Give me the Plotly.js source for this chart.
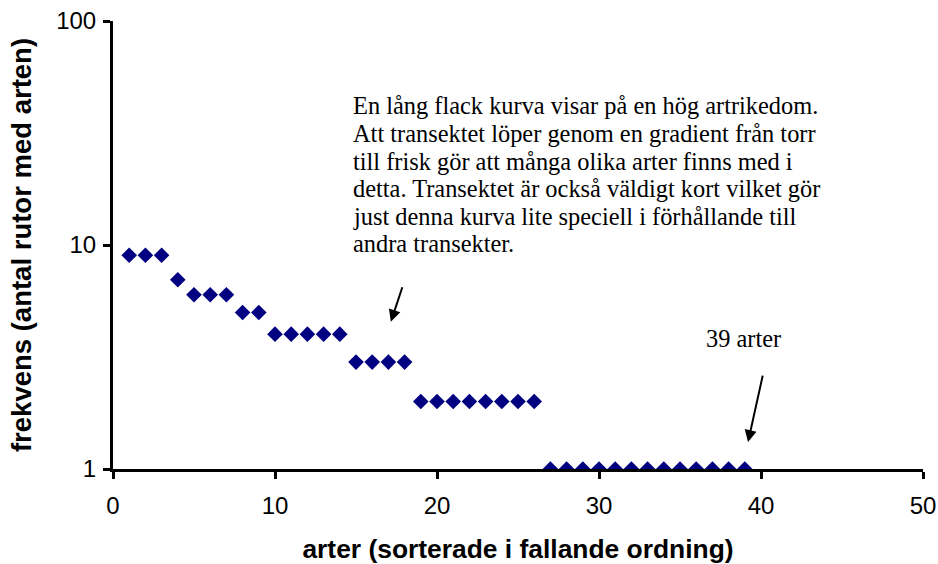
<!DOCTYPE html>
<html><head><meta charset="utf-8">
<script src="https://cdn.plot.ly/plotly-3.0.1.min.js"></script>
<style>html,body{margin:0;padding:0;background:#fff}#chart{width:938px;height:564px}</style>
</head><body><div id="chart"></div>
<script>
const species = [1,2,3,4,5,6,7,8,9,10,11,12,13,14,15,16,17,18,19,20,21,22,23,24,25,26,27,28,29,30,31,32,33,34,35,36,37,38,39];
const frequency = [9,9,9,7,6,6,6,5,5,4,4,4,4,4,3,3,3,3,2,2,2,2,2,2,2,2,1,1,1,1,1,1,1,1,1,1,1,1,1];
const xTicks = [0,10,20,30,40,50];
const yTicks = [1,10,100];
const noteLines = [
  "En lång flack kurva visar på en hög artrikedom.",
  "Att transektet löper genom en gradient från torr",
  "till frisk gör att många olika arter finns med i",
  "detta. Transektet är också väldigt kort vilket gör",
  "just denna kurva lite speciell i förhållande till",
  "andra transekter."
];
const countLabel = "39 arter";

const serif = {family: "Liberation Serif, Times New Roman, serif", size: 24.4, color: "#000"};
const annotations = noteLines.map((t, i) => ({
  xref: "paper", yref: "paper", x: 0.2935, y: 0.8103 - i * 0.0614,
  xanchor: "left", yanchor: "middle", text: t, showarrow: false, font: serif
}));
annotations.push({xref: "paper", yref: "paper", x: 0.778, y: 0.292, xanchor: "center", yanchor: "middle",
  text: countLabel, showarrow: false, font: serif});
annotations.push({x: 17.15, y: Math.log10(3) + 0.18, xref: "x", yref: "y", text: "", showarrow: true,
  arrowhead: 2, arrowsize: 1.2, arrowwidth: 2, arrowcolor: "#000", ax: 12, ay: -36});
annotations.push({x: 39.2, y: 0.12, xref: "x", yref: "y", text: "", showarrow: true,
  arrowhead: 2, arrowsize: 1.2, arrowwidth: 2, arrowcolor: "#000", ax: 15, ay: -68});

Plotly.newPlot("chart", [{
  x: species, y: frequency, type: "scatter", mode: "markers",
  marker: {symbol: "diamond", size: 12, color: "#000080"}
}], {
  width: 938, height: 564,
  margin: {l: 113, r: 15, t: 21, b: 95},
  paper_bgcolor: "#fff", plot_bgcolor: "#fff",
  showlegend: false,
  font: {family: "Liberation Sans, Arial, sans-serif", size: 24, color: "#000"},
  xaxis: {
    range: [0, 50], tickvals: xTicks, ticktext: xTicks.map(String),
    showgrid: false, zeroline: false, showline: true, linecolor: "#000", linewidth: 3,
    ticks: "outside", ticklen: 7, tickwidth: 3, tickcolor: "#000",
    tickfont: {size: 24}, ticklabelstandoff: 6,
    title: {text: "<b>arter (sorterade i fallande ordning)</b>", font: {size: 26.4}, standoff: 26}
  },
  yaxis: {
    type: "log", range: [0, 2], tickvals: yTicks, ticktext: yTicks.map(String),
    showgrid: false, zeroline: false, showline: true, linecolor: "#000", linewidth: 3,
    ticks: "outside", ticklen: 7, tickwidth: 3, tickcolor: "#000",
    tickfont: {size: 24}, ticklabelstandoff: 2,
    title: {text: "<b>frekvens (antal rutor med arten)</b>", font: {size: 27.5}, standoff: 17}
  },
  annotations: annotations
}, {staticPlot: true});
</script></body></html>
